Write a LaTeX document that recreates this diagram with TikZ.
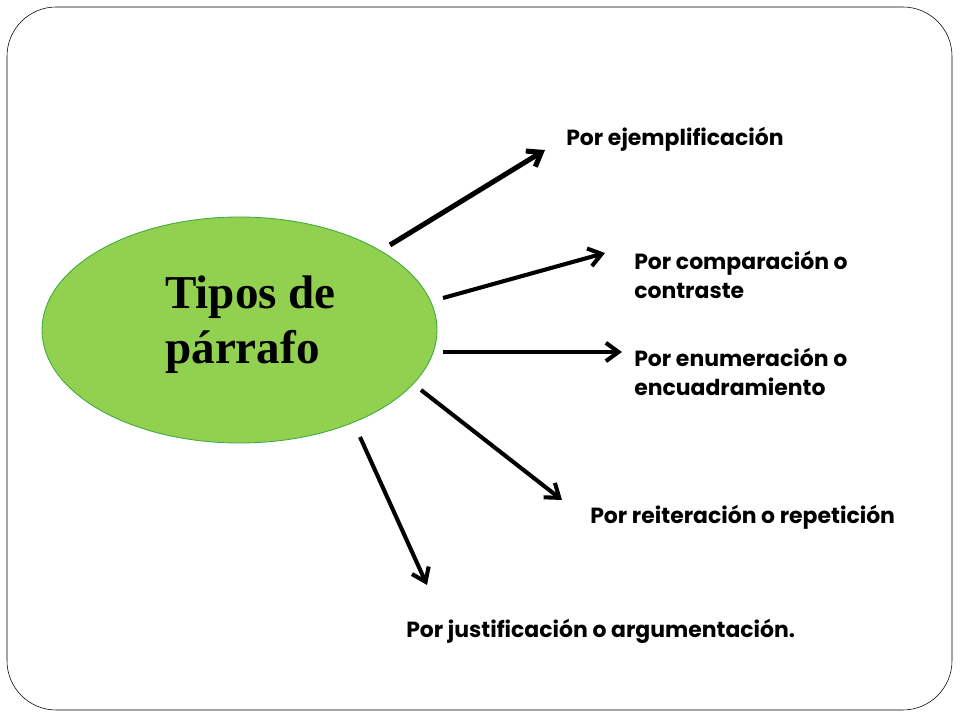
\documentclass[tikz,border=0pt]{standalone}
\usepackage{fontspec}
\setmainfont{Liberation Serif}
\setsansfont{Poppins}
\usetikzlibrary{arrows.meta}
\tikzset{
  tipo/.style = {anchor=west, align=left, inner sep=0pt,
    font=\sffamily\bfseries\fontsize{15.6}{20}\selectfont},
  centro/.style = {draw={rgb,255:red,60;green,170;blue,60}, fill={rgb,255:red,146;green,208;blue,80},
    line width=0.6pt},% elipse verde
  flecha/.style = {-{Straight Barb[length=9pt,width=13pt]}, line width=2.9pt}
}
\begin{document}
\begin{tikzpicture}[x=0.025cm,y=-0.025cm]
		\useasboundingbox (0,0) rectangle (960,720);
		\draw[rounded corners=35, thin] (7,7) rectangle (952,710);
		\draw[centro] (239.5,330) ellipse [x radius=197.5, y radius=113];
		\node[anchor=west, align=left, inner sep=0pt, font=\bfseries\fontsize{33.5}{39}\selectfont]
			(tipos) at (165,325) {Tipos de\\p\'arrafo};
		% ramas
		\coordinate (e1) at (390,245); \coordinate (f1) at (545,150);
		\coordinate (e2) at (443,298); \coordinate (f2) at (605,253);
		\coordinate (e3) at (443,352); \coordinate (f3) at (622,352);
		\coordinate (e4) at (421,390); \coordinate (f4) at (562,500);
		\coordinate (e5) at (360,437); \coordinate (f5) at (427,585);
		\node[tipo] (ejem) at (566,139) {Por ejemplificación};
		\node[tipo] (comp) at (634,275) {Por comparación o\\contraste};
		\node[tipo] (enum) at (634,372) {Por enumeración o\\encuadramiento};
		\node[tipo] (reit) at (590,517) {Por reiteración o repetición};
		\node[tipo] (just) at (406,631) {Por justificación o argumentación.};
		\draw[flecha, line width=3.6pt] (e1) -- (f1);
		\foreach \i in {2,...,5}
			\draw[flecha] (e\i) -- (f\i);
\end{tikzpicture}
\end{document}
